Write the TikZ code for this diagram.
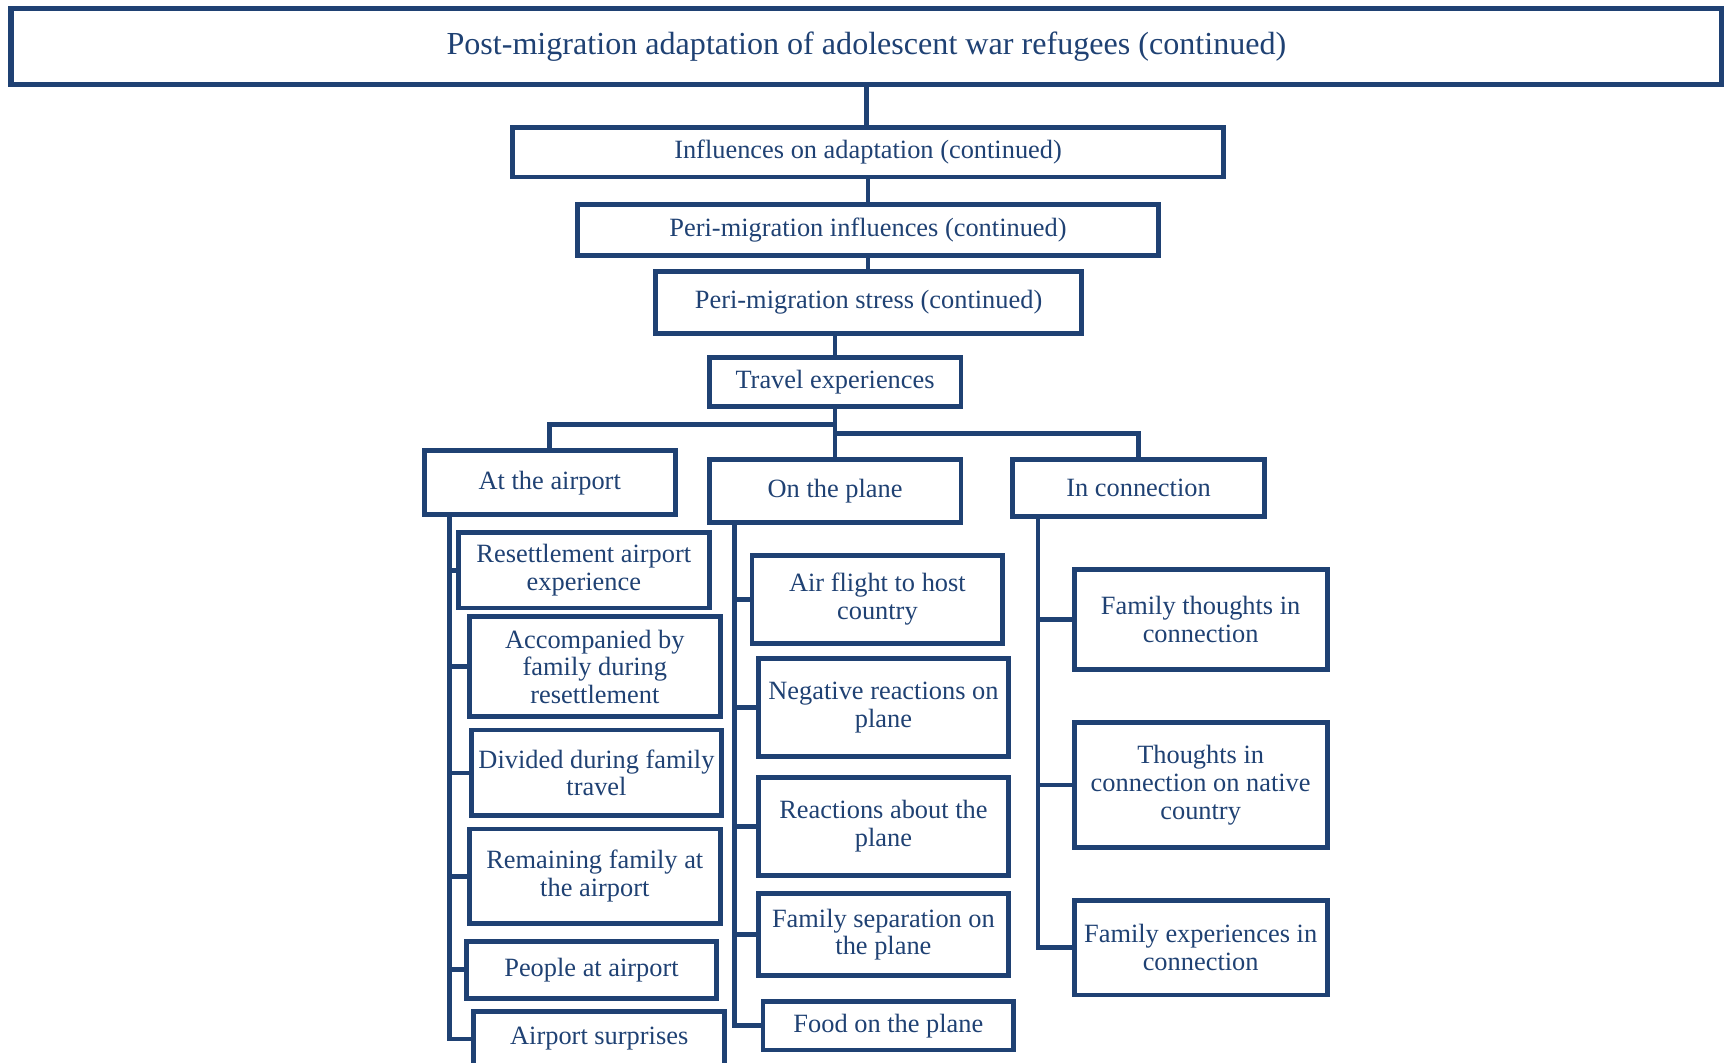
\documentclass[tikz,border=0pt]{standalone}
\usepackage{fontspec}
\setmainfont{Liberation Serif}
\definecolor{navy}{RGB}{31,65,115}
\tikzset{boxA/.style={draw=navy,line width=2.2pt,text=navy,align=center,
    inner sep=1pt,font=\fontsize{12}{12.6}\selectfont}}
\tikzset{boxT/.style={boxA,line width=2.4pt,
    font=\fontsize{14.6}{16}\selectfont}}
\tikzset{leafA/.style={boxA,minimum width=114pt}}
\tikzset{linkA/.style={draw=navy,line width=2.2pt,line join=miter}}

\begin{document}
\begin{tikzpicture}[x=0.5pt,y=-0.5pt]

\useasboundingbox (0,0) rectangle (1568,966);

\pgfmathsetmacro{\xa}{409}
\pgfmathsetmacro{\xb}{668}
\pgfmathsetmacro{\xc}{944}

\begin{scope}\clip (0,0) rectangle (1568,966);

    %   上段の箱
    \node[boxT,minimum width=778pt,minimum height=34.5pt] (top) at (788,42.5)
        {Post-migration adaptation of adolescent war refugees (continued)};
    \node[boxA,minimum width=323.5pt,minimum height=22.5pt] (infl) at (789.5,138.5)
        {Influences on adaptation (continued)};
    \node[boxA,minimum width=264.5pt,minimum height=23pt] (perinf) at (789.5,209)
        {Peri-migration influences (continued)};
    \node[boxA,minimum width=194pt,minimum height=28pt] (stress) at (790,275)
        {Peri-migration stress (continued)};
    \node[boxA,minimum width=114.5pt,minimum height=22.5pt] (travel) at (759.5,347.5)
        {Travel experiences};

    %   中段の箱
    \node[boxA,minimum width=114pt,minimum height=29pt] (airport) at (500,439)
        {At the airport};
    \node[boxA,minimum width=114.5pt,minimum height=28.5pt] (plane) at (759.5,446.5)
        {On the plane};
    \node[boxA,minimum width=114.5pt,minimum height=26pt] (incon) at (1035.5,444)
        {In connection};

    %   左の列
    \node[leafA,minimum height=34.5pt] (res) at (531,518.5)
        {Resettlement airport\\experience};
    \node[leafA,minimum height=45.5pt] (acc) at (541,606.5)
        {Accompanied by\\family during\\resettlement};
    \node[leafA,minimum height=39pt] (div) at (542.5,703)
        {Divided during family\\travel};
    \node[leafA,minimum height=43pt] (rem) at (541,797)
        {Remaining family at\\the airport};
    \node[leafA,minimum height=26pt] (ppl) at (538,882)
        {People at airport};
    \node[leafA,minimum height=25pt] (sur) at (545,945)
        {Airport surprises};

    %   中央の列
    \node[leafA,minimum height=40pt] (air) at (798,545)
        {Air flight to host\\country};
    \node[leafA,minimum height=44.5pt] (neg) at (803.5,643.5)
        {Negative reactions on\\plane};
    \node[leafA,minimum height=44.5pt] (rea) at (803.5,751.5)
        {Reactions about the\\plane};
    \node[leafA,minimum height=37pt] (sep) at (803.5,850)
        {Family separation on\\the plane};
    \node[leafA,minimum height=22pt] (food) at (808,933)
        {Food on the plane};

    %   右の列
    \node[leafA,minimum width=115pt,minimum height=45.5pt] (fth) at (1092,563.5)
        {Family thoughts in\\connection};
    \node[leafA,minimum width=115pt,minimum height=57pt] (thn) at (1092,714)
        {Thoughts in\\connection on native\\country};
    \node[leafA,minimum width=115pt,minimum height=43pt] (fex) at (1092,862)
        {Family experiences in\\connection};

    %   上段の線
    \draw[linkA] (top.south) -- (top.south |- infl.north);
    \draw[linkA] (infl.south) -- (infl.south |- perinf.north);
    \draw[linkA] (perinf.south) -- (perinf.south |- stress.north);
    \draw[linkA] (travel.north) -- (travel.north |- stress.south);

    %   枝分かれ
    \coordinate (forkL) at (760,386);
    \coordinate (forkR) at (760,394);
    \draw[linkA] (travel.south) -- (plane.north);
    \draw[linkA] (airport.north) |- (forkL);
    \draw[linkA] (incon.north) |- (forkR);

    %   縦の線
    \coordinate (spA) at (\xa,0);
    \coordinate (spB) at (\xb,0);
    \coordinate (spC) at (\xc,0);

    \draw[linkA] (spA |- airport.south) |- (sur.west);
    \foreach \n in {res,acc,div,rem,ppl}
        \draw[linkA] (spA |- \n.west) -- (\n.west);

    \draw[linkA] (spB |- plane.south) |- (food.west);
    \foreach \n in {air,neg,rea,sep}
        \draw[linkA] (spB |- \n.west) -- (\n.west);

    \draw[linkA] (spC |- incon.south) |- (fex.west);
    \foreach \n in {fth,thn}
        \draw[linkA] (spC |- \n.west) -- (\n.west);

\end{scope}

\end{tikzpicture}
\end{document}
